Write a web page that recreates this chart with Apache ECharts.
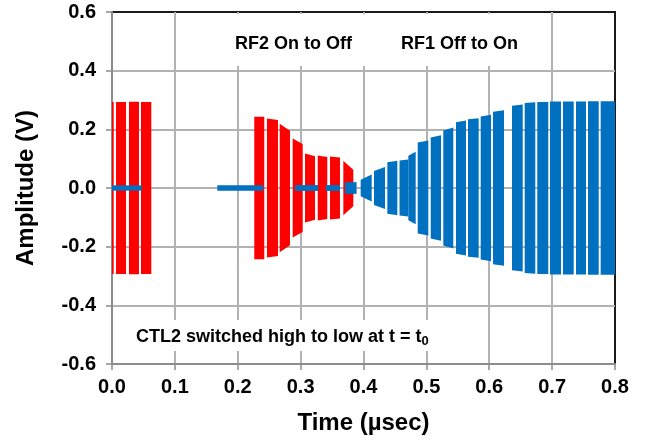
<!DOCTYPE html>
<html>
<head>
<meta charset="utf-8">
<script src="https://cdn.jsdelivr.net/npm/echarts@6/dist/echarts.min.js"></script>
<style>
html,body{margin:0;padding:0;background:#fff;}
#chart{width:646px;height:440px;}
</style>
</head>
<body>
<div id="chart"></div>
<script>
// ---- Data ----
// x axis ticks (µsec) and y axis ticks (V)
const xTickLabels = ['0.0','0.1','0.2','0.3','0.4','0.5','0.6','0.7','0.8'];
const yTickLabels = ['-0.6','-0.4','-0.2','0.0','0.2','0.4','0.6'];

// RF2 (red) oscillation bursts: start time, end time, envelope amplitude at start / end
const redStart   = [0.000, 0.0064, 0.0270, 0.0461, 0.2263, 0.2465, 0.2667, 0.2874, 0.3070, 0.3272, 0.3467, 0.3679];
const redEnd     = [0.0027,0.0223, 0.0429, 0.0625, 0.2422, 0.2640, 0.2831, 0.3033, 0.3229, 0.3424, 0.3626, 0.3838];
const redAmpA    = [0.293, 0.293,  0.294,  0.293,  0.243,  0.237,  0.219,  0.169,  0.118,  0.111,  0.107,  0.093];
const redAmpB    = [0.293, 0.293,  0.294,  0.293,  0.243,  0.232,  0.195,  0.150,  0.108,  0.106,  0.104,  0.062];

// RF1 (blue) oscillation bursts
const blueStart  = [0.3955,0.4167,0.4379,0.4573,0.4713,0.4862,0.5069,0.5269,0.5471,0.5662,0.5864,0.6060,0.6362,0.6564,0.6764,0.6966,0.7173,0.7380,0.7571,0.7772];
const blueEnd    = [0.4130,0.4342,0.4538,0.4713,0.4830,0.5031,0.5233,0.5428,0.5630,0.5832,0.6028,0.6235,0.6532,0.6732,0.6939,0.7141,0.7343,0.7539,0.7741,0.8000];
const blueAmpA   = [0.028, 0.058, 0.088, 0.094, 0.110, 0.155, 0.172, 0.196, 0.224, 0.234, 0.244, 0.260, 0.280, 0.290, 0.293, 0.295, 0.295, 0.295, 0.296, 0.296];
const blueAmpB   = [0.046, 0.072, 0.093, 0.097, 0.124, 0.162, 0.180, 0.206, 0.230, 0.238, 0.250, 0.265, 0.285, 0.292, 0.293, 0.295, 0.295, 0.295, 0.296, 0.296];

// RF1 (blue) near-zero trace segments: start, end, half-thickness (V)
const lineStart  = [0.000, 0.1675, 0.2910, 0.3400, 0.3706];
const lineEnd    = [0.0473,0.2406, 0.3280, 0.3626, 0.3890];
const lineAmp    = [0.009, 0.009,  0.010,  0.010,  0.020];

// ---- Build series data ----
function zip(a, b, c, d) { return a.map((v, i) => [v, b[i], c[i], d[i]]); }
const redData  = zip(redStart, redEnd, redAmpA, redAmpB);
const blueData = zip(blueStart, blueEnd, blueAmpA, blueAmpB);
const lineData = zip(lineStart, lineEnd, lineAmp, lineAmp);

function burstRenderer(color) {
  return function (params, api) {
    const x0 = api.value(0), x1 = api.value(1), a0 = api.value(2), a1 = api.value(3);
    const pts = [api.coord([x0, a0]), api.coord([x1, a1]), api.coord([x1, -a1]), api.coord([x0, -a0])];
    return {
      type: 'polygon',
      shape: { points: pts },
      style: { fill: color }
    };
  };
}

const RED = '#ff0000';
const BLUE = '#0070c0';
const FONT = '"Liberation Sans", Arial, Helvetica, sans-serif';

const chart = echarts.init(document.getElementById('chart'), null, { renderer: 'canvas' });

const option = {
  backgroundColor: '#ffffff',
  animation: false,
  grid: {
    left: 112, right: 31, top: 12, bottom: 76,
    show: true, borderColor: '#1a1a1a', borderWidth: 2,
    backgroundColor: 'transparent',
    containLabel: false, outerBoundsMode: 'none'
  },
  xAxis: {
    type: 'value', min: 0, max: 0.8, interval: 0.1,
    name: 'Time (µsec)', nameLocation: 'middle', nameGap: 47,
    nameTextStyle: { fontFamily: FONT, fontWeight: 'bold', fontSize: 24, color: '#000' },
    axisLine: { show: true, onZero: false, lineStyle: { color: '#8c8c8c', width: 2 } },
    axisTick: { show: true, inside: false, length: 6, lineStyle: { color: '#8c8c8c', width: 1.5 } },
    axisLabel: {
      margin: 13, fontFamily: FONT, fontWeight: 'bold', fontSize: 20, color: '#000',
      formatter: (v) => xTickLabels[Math.round(v * 10)]
    },
    splitLine: { show: true, showMinLine: false, showMaxLine: false, lineStyle: { color: '#b2b2b2', width: 2 } }
  },
  yAxis: {
    type: 'value', min: -0.6, max: 0.6, interval: 0.2,
    name: 'Amplitude (V)', nameLocation: 'middle', nameGap: 74, nameRotate: 90,
    nameTextStyle: { fontFamily: FONT, fontWeight: 'bold', fontSize: 24, color: '#000' },
    axisLine: { show: true, onZero: false, lineStyle: { color: '#8c8c8c', width: 2 } },
    axisTick: { show: true, inside: false, length: 6, lineStyle: { color: '#8c8c8c', width: 1.5 } },
    axisLabel: {
      margin: 16, fontFamily: FONT, fontWeight: 'bold', fontSize: 20, color: '#000',
      formatter: (v) => yTickLabels[Math.round((v + 0.6) * 5)]
    },
    splitLine: { show: true, showMinLine: false, showMaxLine: false, lineStyle: { color: '#b2b2b2', width: 2 } }
  },
  graphic: [
    { type: 'rect', z: 50, shape: { x: 226, y: 14, width: 302, height: 52 }, style: { fill: '#fff' } },
    { type: 'text', z: 51, x: 235, y: 44,
      style: { text: 'RF2 On to Off', font: 'bold 18px ' + FONT, fill: '#000', textVerticalAlign: 'middle', verticalAlign: 'middle' } },
    { type: 'text', z: 51, x: 401, y: 44,
      style: { text: 'RF1 Off to On', font: 'bold 18px ' + FONT, fill: '#000', textVerticalAlign: 'middle', verticalAlign: 'middle' } },
    { type: 'rect', z: 50, shape: { x: 130, y: 320, width: 304, height: 31 }, style: { fill: '#fff' } },
    { type: 'text', z: 51, x: 136, y: 337,
      style: {
        text: '{a|CTL2 switched high to low at t = t}{s|0}',
        verticalAlign: 'middle', textVerticalAlign: 'middle',
        rich: {
          a: { fontFamily: FONT, fontWeight: 'bold', fontSize: 18, fill: '#000', color: '#000' },
          s: { fontFamily: FONT, fontWeight: 'bold', fontSize: 13, fill: '#000', color: '#000', padding: [9, 0, 0, 0] }
        }
      } }
  ],
  series: [
    {
      name: 'RF2', type: 'custom', renderItem: burstRenderer(RED),
      data: redData, encode: { x: [0, 1], y: [2, 3] }, z: 3, clip: true, silent: true
    },
    {
      name: 'RF1', type: 'custom', renderItem: burstRenderer(BLUE),
      data: blueData, encode: { x: [0, 1], y: [2, 3] }, z: 3, clip: true, silent: true
    },
    {
      name: 'RF1 trace', type: 'custom', renderItem: burstRenderer(BLUE),
      data: lineData, encode: { x: [0, 1], y: [2, 3] }, z: 4, clip: true, silent: true
    }
  ]
};
chart.setOption(option);
</script>
</body>
</html>
